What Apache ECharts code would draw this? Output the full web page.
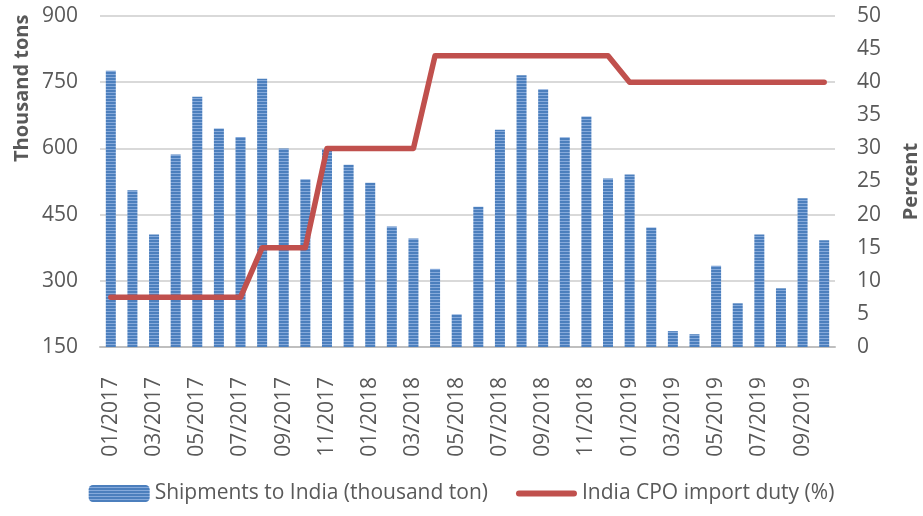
<!DOCTYPE html>
<html>
<head>
<meta charset="utf-8">
<script src="https://cdn.jsdelivr.net/npm/echarts@6/dist/echarts.min.js"></script>
<style>html,body{margin:0;padding:0;background:#fff}#c{width:923px;height:516px}</style>
</head>
<body>
<div id="c"></div>
<script>
const categories = ["01/2017","02/2017","03/2017","04/2017","05/2017","06/2017","07/2017","08/2017","09/2017","10/2017","11/2017","12/2017",
  "01/2018","02/2018","03/2018","04/2018","05/2018","06/2018","07/2018","08/2018","09/2018","10/2018","11/2018","12/2018",
  "01/2019","02/2019","03/2019","04/2019","05/2019","06/2019","07/2019","08/2019","09/2019","10/2019"];
const shipments = [776,505,405,586,717,645,626,758,600,530,598,563,
  522,423,396,327,224,468,642,766,734,625,672,532,
  541,421,186,179,334,249,405,283,487,392];
const duty = [7.5,7.5,7.5,7.5,7.5,7.5,7.5,15,15,15,30,30,
  30,30,30,44,44,44,44,44,44,44,44,44,
  40,40,40,40,40,40,40,40,40,40];
const leftTicks = {min:150, max:900, interval:150};
const rightTicks = {min:0, max:50, interval:5};
const seriesNames = ["Shipments to India (thousand ton)","India CPO import duty (%)"];

const pc = document.createElement('canvas');
pc.width = 4; pc.height = 3;
const g = pc.getContext('2d');
g.fillStyle = '#4c7fbd'; g.fillRect(0,0,4,3);
g.fillStyle = '#86aadb'; g.fillRect(0,2,4,1);
const barPattern = {image: pc, repeat: 'repeat'};

const FONT = '"Open Sans", sans-serif';
const TXT = '#595959';
const chart = echarts.init(document.getElementById('c'));
chart.setOption({
  animation:false,
  textStyle:{fontFamily:FONT},
  grid:{left:100,right:88,top:16,bottom:169,containLabel:false,outerBoundsMode:'none'},
  legend:{
    bottom:7, left:'center',
    itemWidth:61, itemHeight:17, itemGap:28,
    textStyle:{fontFamily:FONT,fontSize:21,color:TXT},
    data:[
      {name:seriesNames[0]},
      {name:seriesNames[1], icon:'path://M3,0 H58 A3,3 0 0 1 58,6 H3 A3,3 0 0 1 3,0 Z', itemStyle:{color:'#c0504d'}}
    ]
  },
  graphic:[
    {type:'text', style:{text:'Thousand tons', font:'bold 20px "Open Sans", sans-serif', fill:TXT},
     rotation:Math.PI/2, originX:0, originY:0, x:12, y:162}
  ],
  xAxis:{
    type:'category', data:categories,
    axisLine:{lineStyle:{color:'#bfbfbf',width:2}},
    axisTick:{show:false},
    axisLabel:{rotate:90, interval:1, margin:30, fontSize:21, color:TXT, fontFamily:FONT}
  },
  yAxis:[
    {type:'value', min:leftTicks.min, max:leftTicks.max, interval:leftTicks.interval,
     axisLine:{show:false}, axisTick:{show:false},
     axisLabel:{fontSize:21, color:TXT, margin:22, fontFamily:FONT},
     splitLine:{lineStyle:{color:'#d9d9d9',width:2}}},
    {type:'value', min:rightTicks.min, max:rightTicks.max, interval:rightTicks.interval,
     name:'Percent', nameLocation:'middle', nameRotate:90, nameGap:66,
     nameTextStyle:{fontSize:20, fontWeight:'bold', color:TXT, fontFamily:FONT},
     axisLine:{show:false}, axisTick:{show:false},
     axisLabel:{fontSize:21, color:TXT, margin:22, fontFamily:FONT},
     splitLine:{show:false}}
  ],
  series:[
    {name:seriesNames[0], type:'bar', data:shipments, barWidth:10, itemStyle:{color:barPattern}},
    {name:seriesNames[1], type:'line', yAxisIndex:1, data:duty, symbol:'none', showSymbol:false,
     lineStyle:{color:'#c0504d', width:5.5, cap:'round', join:'round'}, itemStyle:{color:'#c0504d'}}
  ]
});
</script>
</body>
</html>
